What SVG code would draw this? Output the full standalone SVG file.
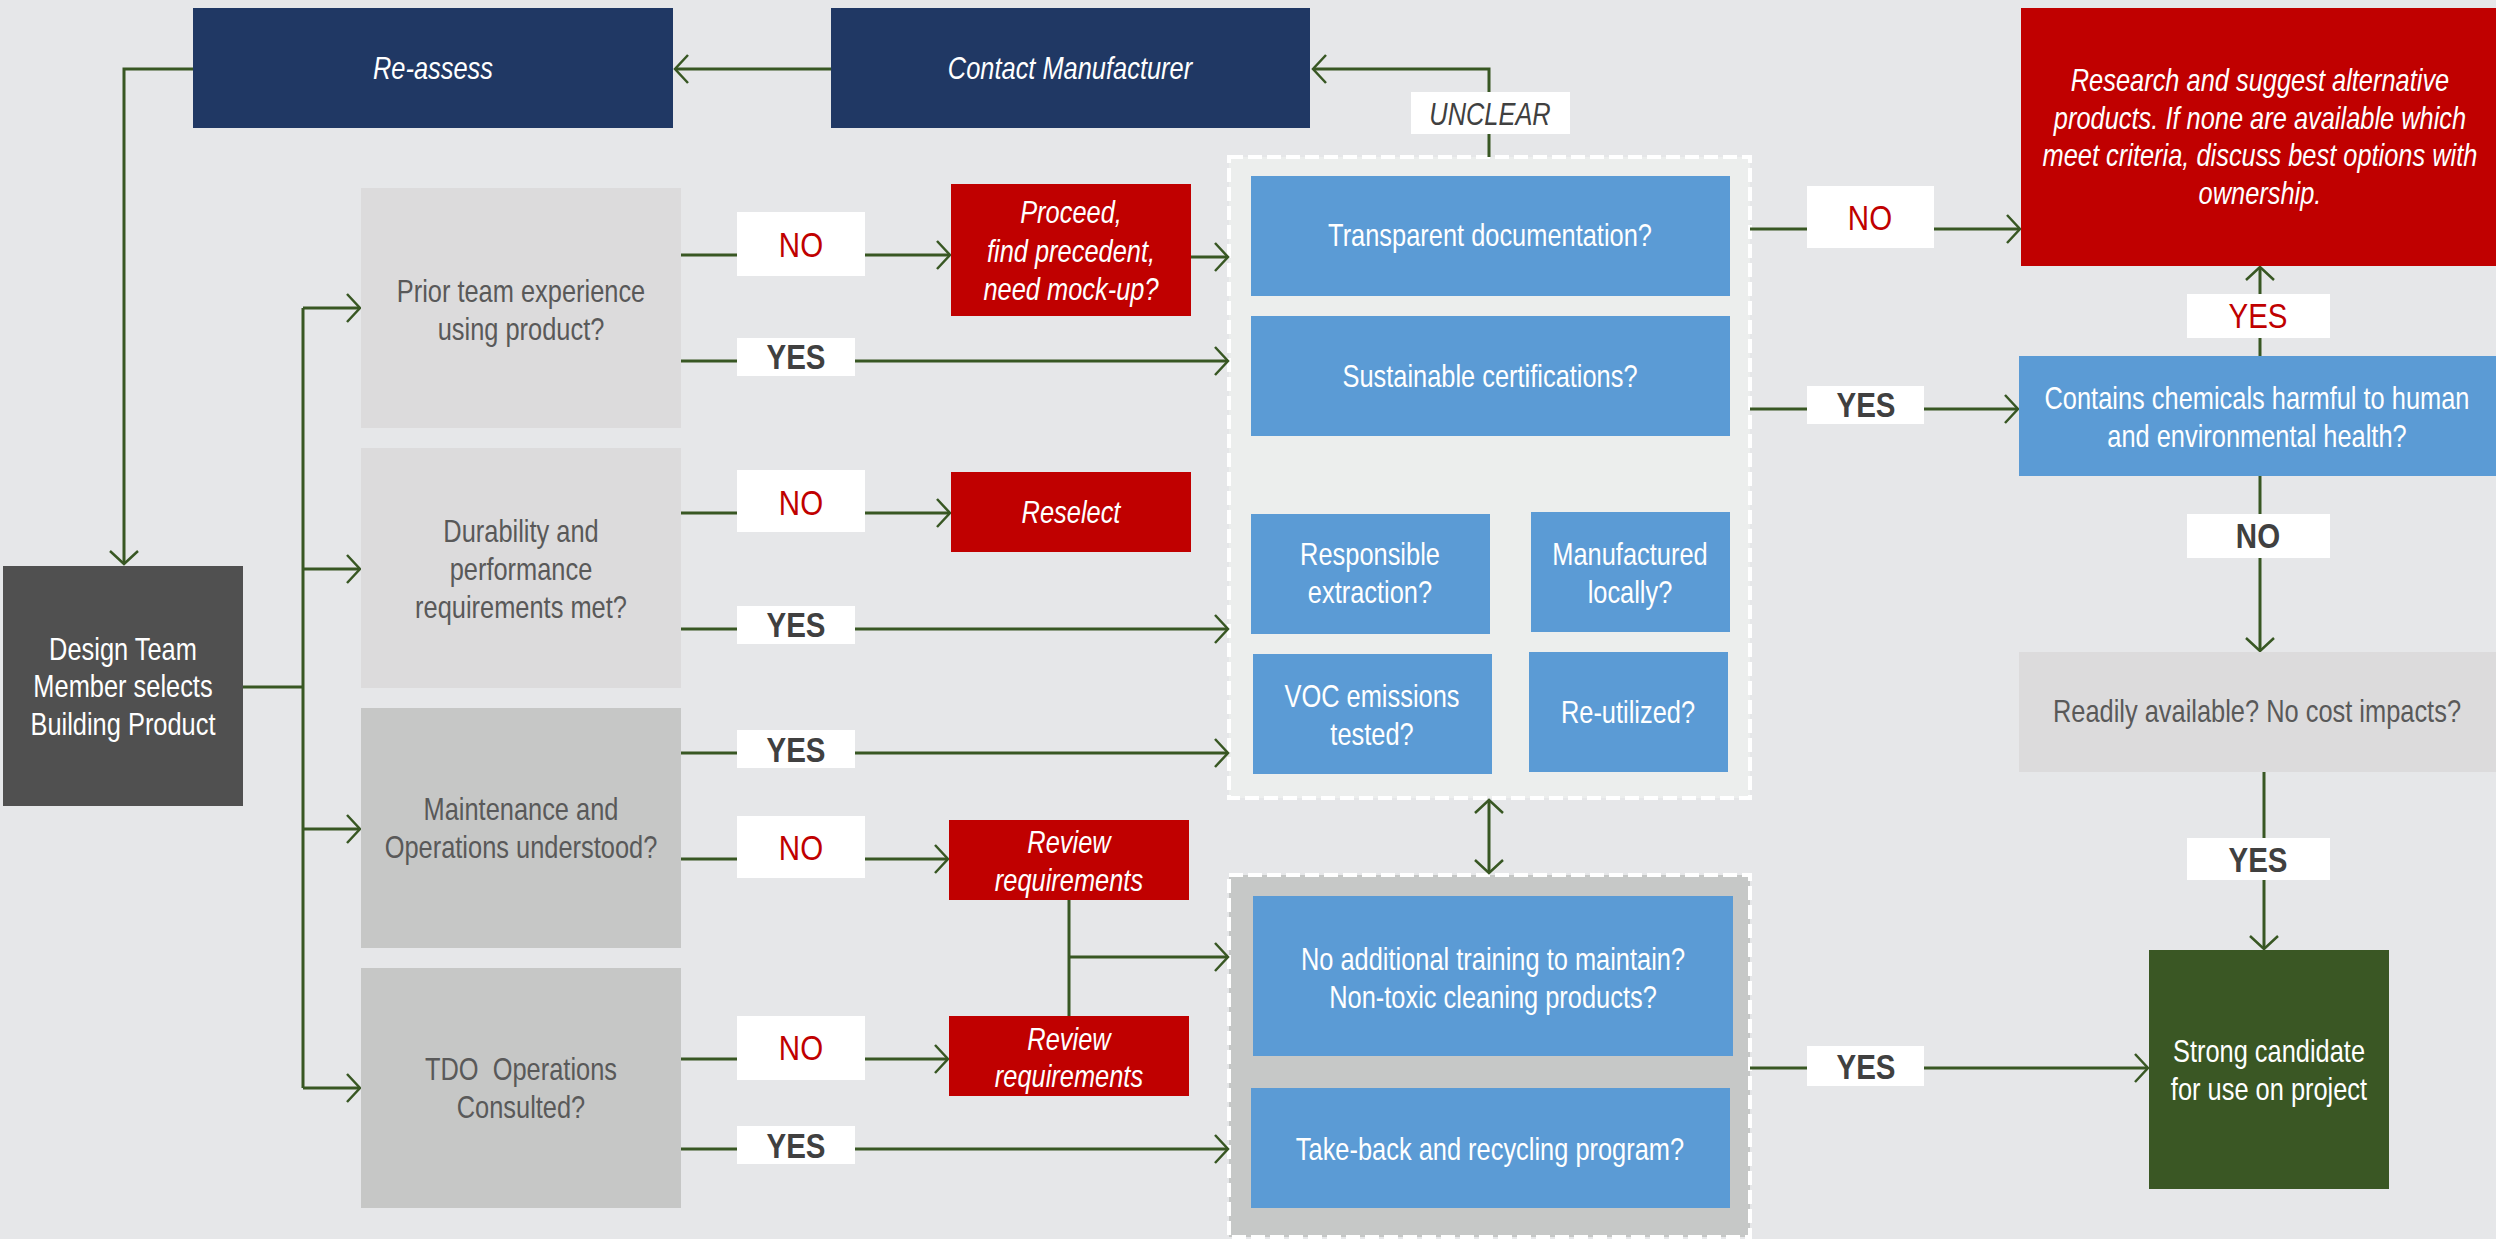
<svg xmlns="http://www.w3.org/2000/svg" width="2496" height="1239" viewBox="0 0 2496 1239">
<style>
text{font-family:"Liberation Sans",Arial,sans-serif;font-size:31px;text-anchor:middle}
.w{fill:#ffffff}
.g{fill:#595959}
.it{font-style:italic}
.navy{fill:#203864}
.red{fill:#c00000}
.blue{fill:#5b9bd5}
.lg{fill:#dcdbdc}
.dg{fill:#c6c7c6}
.lbl{fill:#ffffff}
.yes{font-size:36px;font-weight:bold;fill:#404040}
.no{font-size:36px;fill:#c00000}
.cn{fill:none;stroke:#385723;stroke-width:3}
.ar{marker-end:url(#ah)}
.box{stroke:#ffffff;stroke-width:4;stroke-dasharray:14 5}
</style>
<defs>
<marker id="ah" markerUnits="userSpaceOnUse" markerWidth="16" markerHeight="32" viewBox="0 0 16 32" refX="14" refY="16" orient="auto-start-reverse">
<path d="M1,2 L14,16 L1,30" fill="none" stroke="#385723" stroke-width="2.5"/>
</marker>
</defs>
<rect x="0" y="0" width="2496" height="1239" fill="#e6e7e9"/>

<g id="container-env">
<rect class="box" x="1229" y="157" width="521" height="641" fill="#eceeed"/>
</g>
<g id="container-ops">
<rect class="box" x="1229" y="875" width="521" height="362" fill="#c6c8c7"/>
</g>

<g id="connectors">
<path class="cn ar" d="M831,69 H675"/>
<path class="cn ar" d="M193,69 H124 V564"/>
<path class="cn ar" d="M1489,157 V69 H1313"/>
<path class="cn" d="M243,687 H303"/>
<path class="cn" d="M303,308 V1088"/>
<path class="cn ar" d="M303,308 H360"/>
<path class="cn ar" d="M303,569 H360"/>
<path class="cn ar" d="M303,829 H360"/>
<path class="cn ar" d="M303,1088 H360"/>
<path class="cn ar" d="M681,255 H950"/>
<path class="cn ar" d="M1191,257 H1228"/>
<path class="cn ar" d="M681,361 H1228"/>
<path class="cn ar" d="M681,513 H950"/>
<path class="cn ar" d="M681,629 H1228"/>
<path class="cn ar" d="M681,753 H1228"/>
<path class="cn ar" d="M681,859 H948"/>
<path class="cn" d="M1069,900 V1016"/>
<path class="cn ar" d="M1069,957 H1228"/>
<path class="cn ar" d="M681,1059 H948"/>
<path class="cn ar" d="M681,1149 H1228"/>
<path class="cn ar" d="M1750,229 H2020"/>
<path class="cn ar" d="M1750,409 H2018"/>
<path class="cn ar" d="M2260,356 V267"/>
<path class="cn ar" d="M2260,476 V651"/>
<path class="cn ar" d="M2264,772 V949"/>
<path class="cn ar" d="M1750,1068 H2148"/>
<path class="cn" d="M1489,800 V873" marker-start="url(#ah)" marker-end="url(#ah)"/>
</g>

<g id="labels">
<g id="lbl-unclear"><rect class="lbl" x="1411" y="92" width="159" height="42"/><text class="it" x="1490" y="125" fill="#404040" font-size="35" transform="matrix(0.82 0 0 1 268.2 0)">UNCLEAR</text></g>
<g id="lbl-no1"><rect class="lbl" x="737" y="212" width="128" height="64"/><text class="no" x="801" y="257" transform="matrix(0.82 0 0 1 144.18 0)">NO</text></g>
<g id="lbl-yes1"><rect class="lbl" x="737" y="338" width="118" height="38"/><text class="yes" x="796" y="369" transform="matrix(0.82 0 0 1 143.28 0)">YES</text></g>
<g id="lbl-no2"><rect class="lbl" x="737" y="470" width="128" height="62"/><text class="no" x="801" y="515" transform="matrix(0.82 0 0 1 144.18 0)">NO</text></g>
<g id="lbl-yes2"><rect class="lbl" x="737" y="606" width="118" height="38"/><text class="yes" x="796" y="637" transform="matrix(0.82 0 0 1 143.28 0)">YES</text></g>
<g id="lbl-yes3"><rect class="lbl" x="737" y="730" width="118" height="38"/><text class="yes" x="796" y="762" transform="matrix(0.82 0 0 1 143.28 0)">YES</text></g>
<g id="lbl-no3"><rect class="lbl" x="737" y="816" width="128" height="62"/><text class="no" x="801" y="860" transform="matrix(0.82 0 0 1 144.18 0)">NO</text></g>
<g id="lbl-no4"><rect class="lbl" x="737" y="1016" width="128" height="64"/><text class="no" x="801" y="1060" transform="matrix(0.82 0 0 1 144.18 0)">NO</text></g>
<g id="lbl-yes4"><rect class="lbl" x="737" y="1126" width="118" height="38"/><text class="yes" x="796" y="1158" transform="matrix(0.82 0 0 1 143.28 0)">YES</text></g>
<g id="lbl-no5"><rect class="lbl" x="1807" y="186" width="127" height="62"/><text class="no" x="1870" y="230" transform="matrix(0.82 0 0 1 336.6 0)">NO</text></g>
<g id="lbl-yes5"><rect class="lbl" x="1807" y="386" width="117" height="38"/><text class="yes" x="1866" y="417" transform="matrix(0.82 0 0 1 335.88 0)">YES</text></g>
<g id="lbl-yes6"><rect class="lbl" x="2187" y="294" width="143" height="44"/><text class="no" x="2258" y="328" transform="matrix(0.82 0 0 1 406.44 0)">YES</text></g>
<g id="lbl-no6"><rect class="lbl" x="2187" y="514" width="143" height="44"/><text class="yes" x="2258" y="548" transform="matrix(0.82 0 0 1 406.44 0)">NO</text></g>
<g id="lbl-yes7"><rect class="lbl" x="2187" y="838" width="143" height="42"/><text class="yes" x="2258" y="872" transform="matrix(0.82 0 0 1 406.44 0)">YES</text></g>
<g id="lbl-yes8"><rect class="lbl" x="1807" y="1046" width="117" height="40"/><text class="yes" x="1866" y="1079" transform="matrix(0.82 0 0 1 335.88 0)">YES</text></g>
</g>

<g id="n-reassess"><rect class="navy" x="193" y="8" width="480" height="120"/><text class="w it" x="433" y="79" transform="matrix(0.82 0 0 1 77.94 0)">Re-assess</text></g>
<g id="n-contact"><rect class="navy" x="831" y="8" width="479" height="120"/><text class="w it" x="1070" y="79" transform="matrix(0.82 0 0 1 192.6 0)">Contact Manufacturer</text></g>
<g id="n-design"><rect x="3" y="566" width="240" height="240" fill="#505050"/><text class="w" x="123" transform="matrix(0.82 0 0 1 22.14 0)"><tspan x="123" y="660">Design Team</tspan><tspan x="123" y="697">Member selects</tspan><tspan x="123" y="735">Building Product</tspan></text></g>
<g id="n-prior"><rect class="lg" x="361" y="188" width="320" height="240"/><text class="g" x="521" transform="matrix(0.82 0 0 1 93.78 0)"><tspan x="521" y="302">Prior team experience</tspan><tspan x="521" y="340">using product?</tspan></text></g>
<g id="n-durability"><rect class="lg" x="361" y="448" width="320" height="240"/><text class="g" x="521" transform="matrix(0.82 0 0 1 93.78 0)"><tspan x="521" y="542">Durability and</tspan><tspan x="521" y="580">performance</tspan><tspan x="521" y="618">requirements met?</tspan></text></g>
<g id="n-maint"><rect class="dg" x="361" y="708" width="320" height="240"/><text class="g" x="521" transform="matrix(0.82 0 0 1 93.78 0)"><tspan x="521" y="820">Maintenance and</tspan><tspan x="521" y="858">Operations understood?</tspan></text></g>
<g id="n-tdo"><rect class="dg" x="361" y="968" width="320" height="240"/><text class="g" x="521" xml:space="preserve" transform="matrix(0.82 0 0 1 93.78 0)"><tspan x="521" y="1080">TDO  Operations</tspan><tspan x="521" y="1118">Consulted?</tspan></text></g>
<g id="n-proceed"><rect class="red" x="951" y="184" width="240" height="132"/><text class="w it" x="1071" transform="matrix(0.82 0 0 1 192.78 0)"><tspan x="1071" y="223">Proceed,</tspan><tspan x="1071" y="262">find precedent,</tspan><tspan x="1071" y="300">need mock-up?</tspan></text></g>
<g id="n-reselect"><rect class="red" x="951" y="472" width="240" height="80"/><text class="w it" x="1071" y="523" transform="matrix(0.82 0 0 1 192.78 0)">Reselect</text></g>
<g id="n-review1"><rect class="red" x="949" y="820" width="240" height="80"/><text class="w it" x="1069" transform="matrix(0.82 0 0 1 192.42 0)"><tspan x="1069" y="853">Review</tspan><tspan x="1069" y="891">requirements</tspan></text></g>
<g id="n-review2"><rect class="red" x="949" y="1016" width="240" height="80"/><text class="w it" x="1069" transform="matrix(0.82 0 0 1 192.42 0)"><tspan x="1069" y="1050">Review</tspan><tspan x="1069" y="1087">requirements</tspan></text></g>
<g id="n-transparent"><rect class="blue" x="1251" y="176" width="479" height="120"/><text class="w" x="1490" y="246" transform="matrix(0.82 0 0 1 268.2 0)">Transparent documentation?</text></g>
<g id="n-sustainable"><rect class="blue" x="1251" y="316" width="479" height="120"/><text class="w" x="1490" y="387" transform="matrix(0.82 0 0 1 268.2 0)">Sustainable certifications?</text></g>
<g id="n-responsible"><rect class="blue" x="1251" y="514" width="239" height="120"/><text class="w" x="1370" transform="matrix(0.82 0 0 1 246.6 0)"><tspan x="1370" y="565">Responsible</tspan><tspan x="1370" y="603">extraction?</tspan></text></g>
<g id="n-local"><rect class="blue" x="1531" y="512" width="199" height="120"/><text class="w" x="1630" transform="matrix(0.82 0 0 1 293.4 0)"><tspan x="1630" y="565">Manufactured</tspan><tspan x="1630" y="603">locally?</tspan></text></g>
<g id="n-voc"><rect class="blue" x="1253" y="654" width="239" height="120"/><text class="w" x="1372" transform="matrix(0.82 0 0 1 246.96 0)"><tspan x="1372" y="707">VOC emissions</tspan><tspan x="1372" y="745">tested?</tspan></text></g>
<g id="n-reutil"><rect class="blue" x="1529" y="652" width="199" height="120"/><text class="w" x="1628" y="723" transform="matrix(0.82 0 0 1 293.04 0)">Re-utilized?</text></g>
<g id="n-training"><rect class="blue" x="1253" y="896" width="480" height="160"/><text class="w" x="1493" transform="matrix(0.82 0 0 1 268.74 0)"><tspan x="1493" y="970">No additional training to maintain?</tspan><tspan x="1493" y="1008">Non-toxic cleaning products?</tspan></text></g>
<g id="n-takeback"><rect class="blue" x="1251" y="1088" width="479" height="120"/><text class="w" x="1490" y="1160" transform="matrix(0.82 0 0 1 268.2 0)">Take-back and recycling program?</text></g>
<g id="n-research"><rect class="red" x="2021" y="8" width="475" height="258"/><text class="w it" x="2260" transform="matrix(0.82 0 0 1 406.8 0)"><tspan x="2260" y="91">Research and suggest alternative</tspan><tspan x="2260" y="129">products. If none are available which</tspan><tspan x="2260" y="166">meet criteria, discuss best options with</tspan><tspan x="2260" y="204">ownership.</tspan></text></g>
<g id="n-contains"><rect class="blue" x="2019" y="356" width="477" height="120"/><text class="w" x="2257" transform="matrix(0.82 0 0 1 406.26 0)"><tspan x="2257" y="409">Contains chemicals harmful to human</tspan><tspan x="2257" y="447">and environmental health?</tspan></text></g>
<g id="n-readily"><rect class="lg" x="2019" y="652" width="477" height="120"/><text class="g" x="2257" y="722" transform="matrix(0.82 0 0 1 406.26 0)">Readily available? No cost impacts?</text></g>
<g id="n-strong"><rect x="2149" y="950" width="240" height="239" fill="#3a5724"/><text class="w" x="2269" transform="matrix(0.82 0 0 1 408.42 0)"><tspan x="2269" y="1062">Strong candidate</tspan><tspan x="2269" y="1100">for use on project</tspan></text></g>
</svg>
